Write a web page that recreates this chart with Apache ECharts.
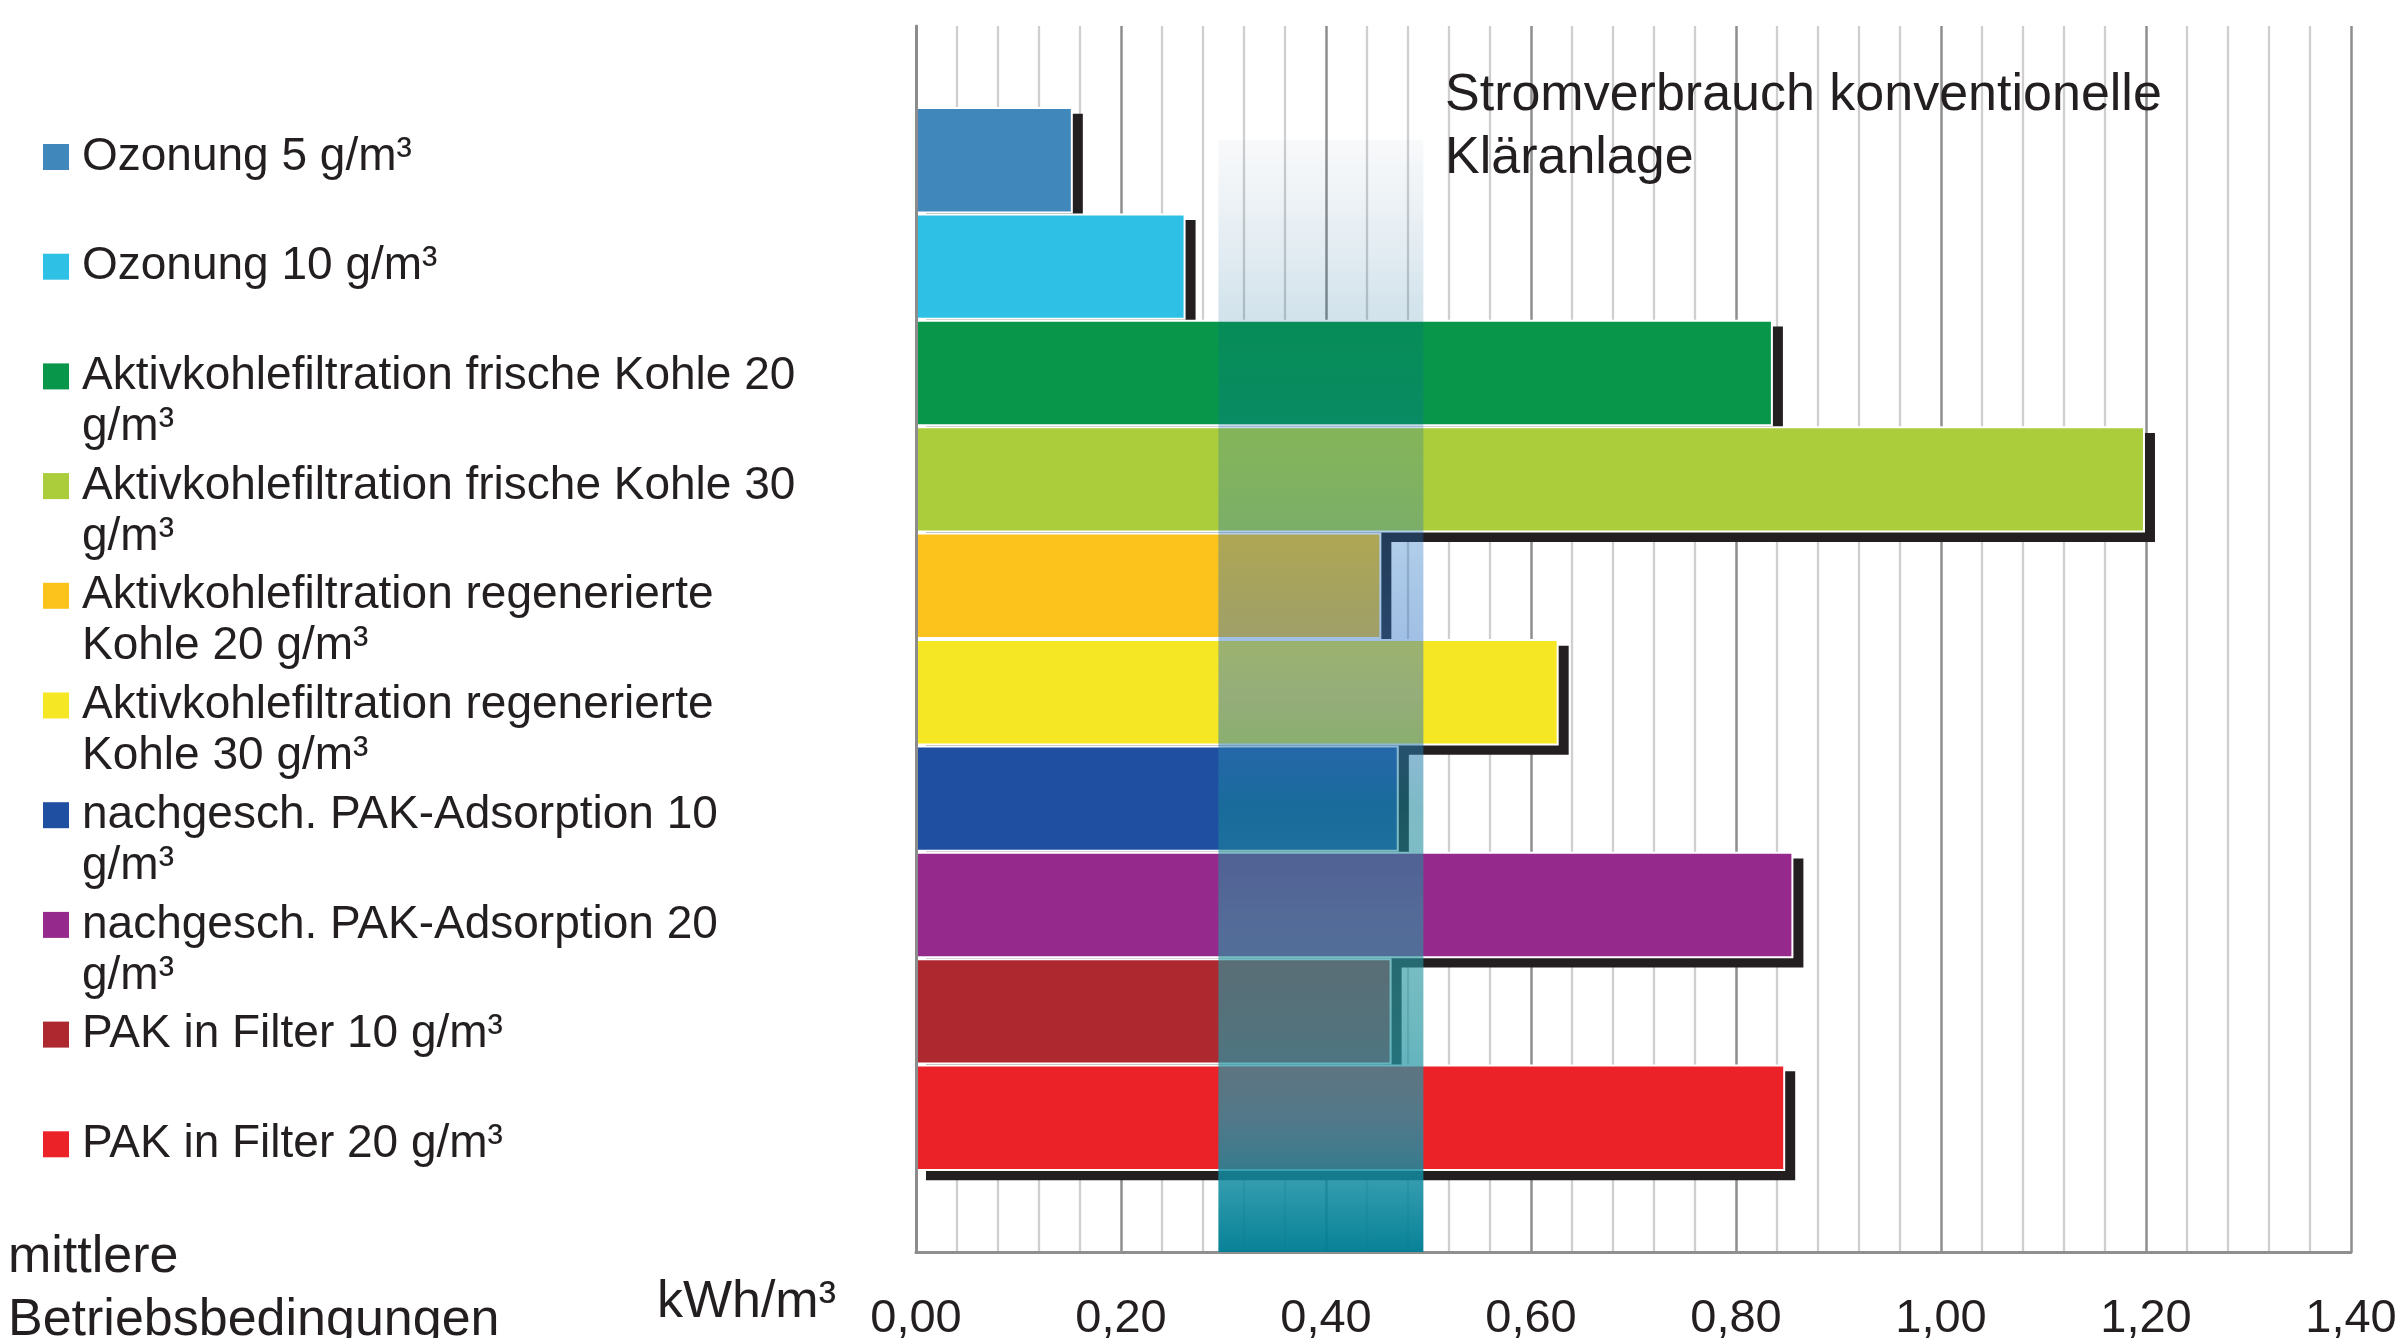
<!DOCTYPE html>
<html>
<head>
<meta charset="utf-8">
<script src="https://cdn.jsdelivr.net/npm/echarts@6/dist/echarts.min.js"></script>
<style>
html, body { margin:0; padding:0; background:#fff; }
#main { width:2405px; height:1338px; }
</style>
</head>
<body>
<div id="main"></div>
<script>
// data (kWh/m³)
var seriesNames = [
	'Ozonung 5 g/m³',
	'Ozonung 10 g/m³',
	'Aktivkohlefiltration frische Kohle 20 g/m³',
	'Aktivkohlefiltration frische Kohle 30 g/m³',
	'Aktivkohlefiltration regenerierte Kohle 20 g/m³',
	'Aktivkohlefiltration regenerierte Kohle 30 g/m³',
	'nachgesch. PAK-Adsorption 10 g/m³',
	'nachgesch. PAK-Adsorption 20 g/m³',
	'PAK in Filter 10 g/m³',
	'PAK in Filter 20 g/m³'
];
var seriesValues = [0.153, 0.263, 0.836, 1.199, 0.454, 0.627, 0.471, 0.856, 0.464, 0.848];
var categories = ['mittlere Betriebsbedingungen'];
var refName = 'Stromverbrauch konventionelle Kläranlage';
var refRange = [0.295, 0.495];
var xMin = 0, xMax = 1.4, xStep = 0.2;
var unitName = 'kWh/m³';

var colors = ['#4087bc', '#2fc0e6', '#07964a', '#abcd3b', '#fbc31b', '#f6e724', '#1f4fa1', '#962a8c', '#ae2830', '#ec2229'];
var FONT = '"Liberation Sans", Arial, Helvetica, sans-serif';
var TXT = '#231f20';

var chart = echarts.init(document.getElementById('main'));

function fmt(v){ return v.toFixed(2).replace('.', ','); }

// wrap on spaces only (echarts also breaks at '/')
var measureCtx = document.createElement('canvas').getContext('2d');
function wrapWords(text, font, maxW){
	measureCtx.font = font;
	var words = text.split(' '), lines = [], cur = '';
	words.forEach(function(w){
		var t = cur ? cur + ' ' + w : w;
		if (cur && measureCtx.measureText(t).width > maxW) { lines.push(cur); cur = w; }
		else cur = t;
	});
	lines.push(cur);
	return lines.join('\n');
}

var mainSeries = seriesNames.map(function(n, i){
	return {
		name: n, type: 'bar', xAxisIndex: 0, yAxisIndex: 0, z: 3,
		barWidth: 106.4, barGap: '0%',
		itemStyle: { color: colors[i], borderColor: '#fff', borderWidth: 2 },
		data: [seriesValues[i]]
	};
});
// drop shadows: same bars on a second grid shifted down-right
var shadowSeries = seriesNames.map(function(n, i){
	return {
		name: n + ' ', type: 'bar', xAxisIndex: 1, yAxisIndex: 1, z: 1, silent: true,
		barWidth: 109, barGap: '-2.39%',
		itemStyle: { color: '#231f20' },
		data: [seriesValues[i]]
	};
});

mainSeries[9].markArea = {
	silent: true, z: 10,
	label: { show: false },
	itemStyle: {
		color: new echarts.graphic.LinearGradient(0, 0, 0, 1, [
			{ offset: 0, color: 'rgba(70,110,150,0.04)' },
			{ offset: 0.15, color: 'rgba(0,95,145,0.17)' },
			{ offset: 0.3, color: 'rgba(20,110,190,0.28)' },
			{ offset: 0.5, color: 'rgba(60,120,200,0.52)' },
			{ offset: 0.6, color: 'rgba(20,130,150,0.55)' },
			{ offset: 0.7, color: 'rgba(40,150,160,0.6)' },
			{ offset: 0.8, color: 'rgba(40,150,160,0.68)' },
			{ offset: 0.88, color: 'rgba(30,150,170,0.75)' },
			{ offset: 1, color: 'rgba(0,125,148,0.97)' }
		])
	},
	data: [[ { name: refName, xAxis: refRange[0], y: 140 }, { xAxis: refRange[1], y: 1252 } ]]
};

// legend drawn by hand so the square sits on the first line
var legendFont = '46px ' + FONT;
var graphics = [];
seriesNames.forEach(function(n, i){
	var cy = 157 + i * 109.7;
	graphics.push({ type: 'rect', shape: { x: 43, y: cy - 13, width: 26, height: 26 }, style: { fill: colors[i] } });
	graphics.push({ type: 'text', x: 82, y: cy - 25.5, style: {
		text: wrapWords(n, legendFont, 722), font: legendFont, lineHeight: 51,
		fill: TXT, verticalAlign: 'top', align: 'left' } });
});
graphics.push({ type: 'text', x: 8, y: 1226, style: {
	text: wrapWords(categories[0], '52px ' + FONT, 520), font: '52px ' + FONT, lineHeight: 63,
	fill: TXT, verticalAlign: 'top', align: 'left' } });
graphics.push({ type: 'text', x: 836, y: 1303, style: {
	text: unitName, font: '52px ' + FONT, fill: TXT, verticalAlign: 'middle', align: 'right' } });

var option = {
	animation: false,
	backgroundColor: '#fff',
	title: {
		text: 'Stromverbrauch konventionelle\nKläranlage', left: 1440, top: 59,
		textStyle: { fontFamily: FONT, fontSize: 52, fontWeight: 'normal', color: TXT, lineHeight: 63 }
	},
	grid: [
		{ left: 916, top: 26, width: 1435, height: 1226, outerBoundsMode: 'none' },
		{ left: 926, top: 34, width: 1435, height: 1226, outerBoundsMode: 'none' }
	],
	xAxis: [
		{
			type: 'value', gridIndex: 0, min: xMin, max: xMax, interval: xStep,
			axisLine: { show: true, lineStyle: { color: '#8f8f8f', width: 3 } },
			axisTick: { show: false },
			axisLabel: { formatter: fmt, margin: 44, fontFamily: FONT, fontSize: 47, color: TXT },
			splitLine: { show: true, lineStyle: { color: '#8e8e8e', width: 2.5 } },
			minorTick: { show: false, splitNumber: 5 },
			minorSplitLine: { show: true, lineStyle: { color: '#cfcfcf', width: 2.3 } }
		},
		{ type: 'value', gridIndex: 1, min: xMin, max: xMax, show: false, splitLine: { show: false } }
	],
	yAxis: [
		{
			type: 'category', gridIndex: 0, data: categories, z: 5,
			axisLine: { show: true, lineStyle: { color: '#8c8c8c', width: 3 } },
			axisTick: { show: false },
			axisLabel: { show: false }
		},
		{ type: 'category', gridIndex: 1, data: categories, show: false }
	],
	graphic: graphics,
	series: shadowSeries.concat(mainSeries)
};

chart.setOption(option);
</script>
</body>
</html>
